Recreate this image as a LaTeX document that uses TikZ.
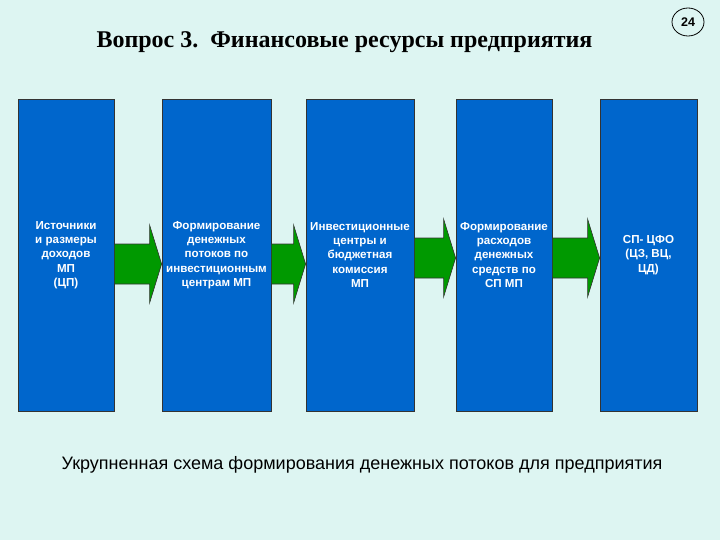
\documentclass[tikz,border=0pt]{standalone}
\usepackage{fontspec}
\setmainfont{Liberation Serif}
\newfontfamily\arialfont{Liberation Sans}
\usetikzlibrary{calc,shapes.geometric}

\definecolor{fonvoda}{RGB}{221,245,242}
\definecolor{sinij}{RGB}{0,102,204}
\definecolor{zelenyj}{RGB}{0,153,0}

\begin{document}
\begin{tikzpicture}[x=1pt,y=-1pt]
\tikzstyle{blok} = [draw=black!80, fill=sinij, line width=0.8pt, minimum width=96pt, minimum height=312pt, inner sep=1pt, align=center, text=white, font=\arialfont\bfseries\fontsize{11.6}{14.3}\selectfont] % синий столбец
\tikzstyle{strelka} = [draw=black!80, fill=zelenyj, line width=0.6pt] % зеленая стрелка
\tikzstyle{zagolovok} = [font=\fontsize{24}{28}\selectfont\bfseries, inner sep=0pt] % заголовок слайда

% фон и границы
\fill[fonvoda] (0,0) rectangle (720,540);
\useasboundingbox (0,0) rectangle (720,540);

% заголовок и номер слайда
\node[zagolovok, anchor=base] (title) at (344.5,48) {Вопрос 3.\ \ Финансовые ресурсы предприятия};
\node[draw, ellipse, fill=fonvoda, line width=0.8pt, minimum width=32pt, minimum height=28pt, inner sep=0pt, font=\arialfont\bfseries\fontsize{12.5}{14}\selectfont] (nomer) at (688,22) {24};

% столбцы
\node[blok, minimum width=96pt]  (b1) at (66,255)  {Источники\\и размеры\\доходов\\МП\\(ЦП)};
\node[blok, minimum width=109pt] (b2) at (216.5,255) {Формирование\\денежных\\потоков по\\инвестиционным\\центрам МП};
\node[blok, minimum width=108pt] (b3) at (360,255) {Инвестиционные\\центры и\\бюджетная\\комиссия\\МП};
\node[blok, minimum width=96pt]  (b4) at (504,255) {Формирование\\расходов\\денежных\\средств по\\СП МП};
\node[blok, minimum width=97pt]  (b5) at (648.5,255) {СП- ЦФО\\(ЦЗ, ВЦ,\\ЦД)};

% стрелки между столбцами
\foreach \a/\b/\d in {b1/b2/9, b2/b3/9, b3/b4/3, b4/b5/3}
  \draw[strelka] ($(\a.east)+(0,\d-20)$) -- ($(\b.west)+(-12,\d-20)$) -- ($(\b.west)+(-12,\d-39)$)
    -- ($(\b.west)+(0,\d)$) -- ($(\b.west)+(-12,\d+39)$) -- ($(\b.west)+(-12,\d+20)$)
    -- ($(\a.east)+(0,\d+20)$) -- cycle;

% подпись
\node[anchor=base, inner sep=0pt, font=\arialfont\fontsize{18}{22}\selectfont] (podpis) at (362,469) {Укрупненная схема формирования денежных потоков для предприятия};
\end{tikzpicture}
\end{document}
